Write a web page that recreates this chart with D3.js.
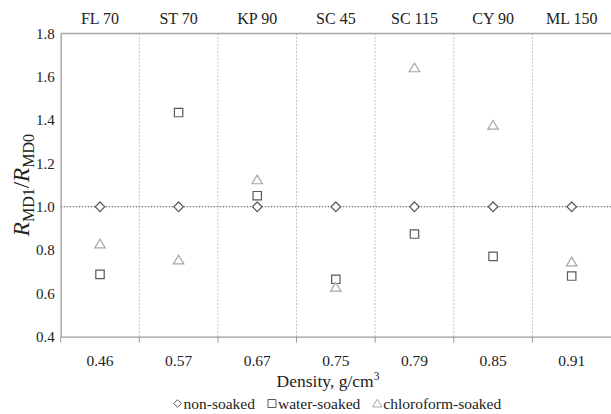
<!DOCTYPE html>
<html><head><meta charset="utf-8">
<script src="https://cdn.jsdelivr.net/npm/d3@7"></script>
<style>
html,body{margin:0;padding:0;background:#fff;}
svg{display:block;}
svg text{font-family:"Liberation Serif","Times New Roman",serif !important;}
</style></head>
<body>
<svg id="c" width="611" height="414"></svg>
<script>
const categories = ["FL 70","ST 70","KP 90","SC 45","SC 115","CY 90","ML 150"];
const densities = ["0.46","0.57","0.67","0.75","0.79","0.85","0.91"];
const nonSoaked = [1.0,1.0,1.0,1.0,1.0,1.0,1.0];
const waterSoaked = [0.688,1.435,1.051,0.665,0.874,0.771,0.680];
const chloroformSoaked = [0.828,0.754,1.124,0.628,1.641,1.376,0.745];
const yTicks = [0.4,0.6,0.8,1.0,1.2,1.4,1.6,1.8];

const svg = d3.select("#c");
const L = 60.7, R = 611, T = 33.5, B = 336.7;
const x = d3.scaleBand().domain(categories).range([L, R]).padding(0);
const y = d3.scaleLinear().domain([0.4, 1.8]).range([B, T]);

// vertical gridlines at category boundaries
const bounds = categories.slice(1).map(c => x(c));
svg.append("g").selectAll("line").data(bounds).join("line")
  .attr("x1", d => d).attr("x2", d => d).attr("y1", T).attr("y2", B)
  .attr("stroke", "#c4c4c4").attr("stroke-width", 1).attr("stroke-dasharray", "2,1.5");

// top border
svg.append("line").attr("x1", L).attr("x2", R).attr("y1", T).attr("y2", T)
  .attr("stroke", "#a6a6a6").attr("stroke-width", 1.3);

// reference line at 1.0
svg.append("line").attr("x1", L).attr("x2", R).attr("y1", y(1.0)).attr("y2", y(1.0))
  .attr("stroke", "#555").attr("stroke-width", 1).attr("stroke-dasharray", "1.5,1.5");

// left axis
const ya = svg.append("g").attr("transform", `translate(${L},0)`)
  .call(d3.axisLeft(y).tickValues(yTicks).tickFormat(d3.format(".1f")).tickSize(0).tickPadding(6));
ya.attr("font-family", null);
ya.select(".domain").attr("stroke", "#9a9a9a").attr("stroke-width", 1.3);
ya.selectAll("text").attr("font-size", 15).attr("fill", "#222");

// bottom axis
const xa = svg.append("g").attr("transform", `translate(0,${B})`)
  .call(d3.axisBottom(x).tickSize(0).tickPadding(18)
    .tickFormat((d, i) => densities[i]));
xa.attr("font-family", null);
xa.select(".domain").attr("stroke", "#9a9a9a").attr("stroke-width", 1.3);
xa.selectAll("text").attr("font-size", 15.5).attr("fill", "#222");
svg.append("g").selectAll("line").data([L].concat(bounds)).join("line")
  .attr("x1", d => d).attr("x2", d => d).attr("y1", B).attr("y2", B + 6)
  .attr("stroke", "#9a9a9a").attr("stroke-width", 1);

// top category labels
const ta = svg.append("g").attr("transform", `translate(0,${T})`)
  .call(d3.axisTop(x).tickSize(0).tickPadding(10));
ta.attr("font-family", null);
ta.select(".domain").remove();
ta.selectAll("text").attr("font-size", 16).attr("fill", "#222");

// markers
const cx = c => x(c) + x.bandwidth() / 2;
const diamond = (s) => `M0,${-s}L${s},0L0,${s}L${-s},0Z`;
const square = (s) => `M${-s},${-s}H${s}V${s}H${-s}Z`;
const tri = (s) => `M0,${-s}L${s*1.1},${s*0.8}L${-s*1.1},${s*0.8}Z`;

function series(vals, pathFn, size, color) {
  svg.append("g").selectAll("path").data(vals).join("path")
    .attr("transform", (d, i) => `translate(${cx(categories[i])},${y(d)})`)
    .attr("d", pathFn(size)).attr("fill", "#fff").attr("stroke", color).attr("stroke-width", 1.2);
}
series(nonSoaked, diamond, 4.8, "#595959");
series(waterSoaked, square, 4.2, "#595959");
series(chloroformSoaked, tri, 4.8, "#a6a6a6");

// y axis title
const yt = svg.append("text")
  .attr("transform", `translate(29,${(T + B) / 2}) rotate(-90)`)
  .attr("text-anchor", "middle").attr("font-size", 23).attr("fill", "#222");
yt.append("tspan").attr("font-style", "italic").text("R");
yt.append("tspan").attr("font-size", 16).attr("dy", 5).text("MD1");
yt.append("tspan").attr("dy", -5).text("/");
yt.append("tspan").attr("font-style", "italic").text("R");
yt.append("tspan").attr("font-size", 16).attr("dy", 5).text("MD0");

// x axis title
const xt = svg.append("text").attr("x", 328).attr("y", 387)
  .attr("text-anchor", "middle").attr("font-size", 17.5).attr("fill", "#222");
xt.append("tspan").text("Density, g/cm");
xt.append("tspan").attr("font-size", 11.5).attr("dy", -7).text("3");

// legend
const legendItems = [
  {label: "non-soaked", fn: diamond, s: 3.8, color: "#595959"},
  {label: "water-soaked", fn: square, s: 4.0, color: "#595959"},
  {label: "chloroform-soaked", fn: tri, s: 4.3, color: "#a6a6a6"}
];
const lg = svg.append("g");
let lx = 173;
legendItems.forEach(it => {
  lg.append("path").attr("transform", `translate(${lx + 4.5},403.5)`)
    .attr("d", it.fn(it.s)).attr("fill", "#fff").attr("stroke", it.color).attr("stroke-width", 1);
  const t = lg.append("text").attr("x", lx + 10.5).attr("y", 408.5)
    .attr("font-size", 15.5).attr("fill", "#222").text(it.label);
  lx += 10.5 + t.node().getComputedTextLength() + 12.5;
});
</script>
</body></html>
